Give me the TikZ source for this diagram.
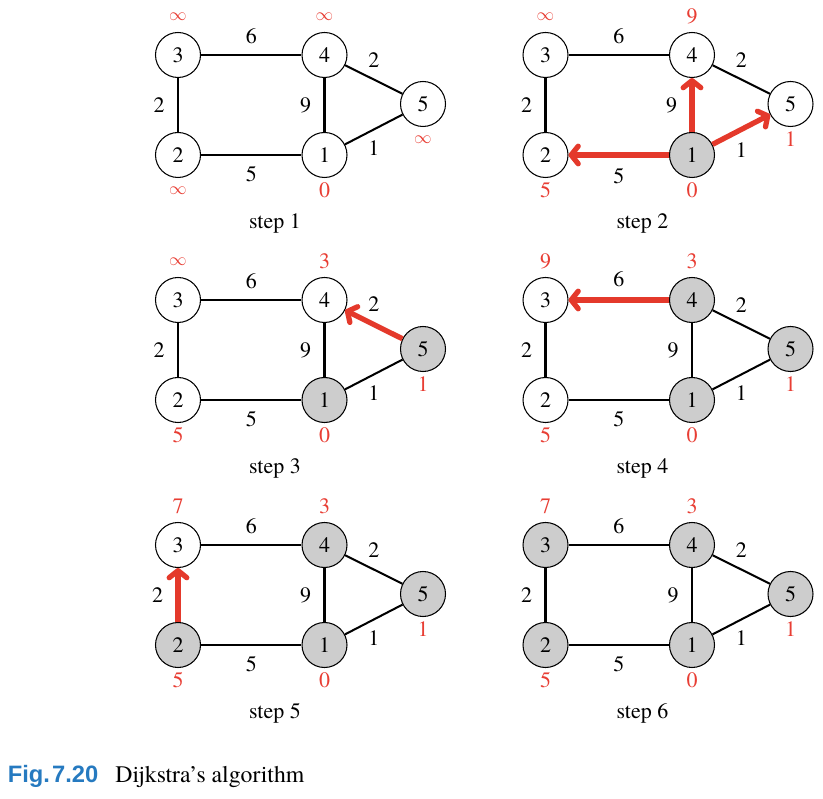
\documentclass[tikz,border=0pt]{standalone}
\usepackage{fontspec}
\setmainfont{texgyretermes}[Extension=.otf, UprightFont=*-regular, BoldFont=*-bold, ItalicFont=*-italic, BoldItalicFont=*-bolditalic]
\newfontfamily\capfont{Liberation Sans}
\usetikzlibrary{arrows.meta}
\definecolor{relaxred}{RGB}{228,57,43}
\definecolor{distred}{RGB}{232,62,52}
\definecolor{visitgray}{RGB}{205,205,205}
\definecolor{capblue}{RGB}{38,122,192}

\tikzset{
  vtx/.style={circle, draw, line width=0.6pt, minimum size=0.9cm, inner sep=0pt},
  seen/.style={vtx, fill=visitgray},
  road/.style={line width=1.15pt},
  relax/.style={draw=relaxred, line width=3pt, -{Straight Barb[round,length=4pt,width=10pt]}},
  wt/.style={inner sep=1pt},
  dist/.style={text=distred, inner sep=1pt, text height=8.4pt, text depth=0pt},
  dtop/.style={label={[dist, label distance=3.5pt]above:#1}},
  dbot/.style={label={[dist, label distance=1.4pt]below:#1}},
}
\newcommand{\infdist}{\raisebox{1.7pt}{\fontsize{10}{12}\selectfont$\infty$}}

\begin{document}
\begin{tikzpicture}[font=\fontsize{12.5}{15}\selectfont]
  \useasboundingbox (0,0) rectangle (16.46,15.96);

  % step 1
  \begin{scope}[shift={(3.56,12.86)}, name prefix=a-]
    \node[vtx, dbot=0] (v1) at (2.93,0) {1};
    \node[vtx, dbot=\infdist] (v2) at (0,0) {2};
    \node[vtx, dtop=\infdist] (v3) at (0,2) {3};
    \node[vtx, dtop=\infdist] (v4) at (2.93,2) {4};
    \node[vtx, dbot=\infdist] (v5) at (4.9,1.02) {5};
    \draw[road] (v3) -- node[wt, above=5pt] {6} (v4);
    \draw[road] (v3) -- node[wt, left=6pt] {2} (v2);
    \draw[road] (v4) -- node[wt, left=6pt] {9} (v1);
    \draw[road] (v4) -- node[wt, above=5pt] {2} (v5);
    \draw[road] (v1) -- node[wt, below=5pt] {1} (v5);
    \draw[road] (v2) -- node[wt, below=5pt] {5} (v1);
    \node (title) at (1.94,-1.36) {step 1};
  \end{scope}

  % step 2
  \begin{scope}[shift={(10.91,12.86)}, name prefix=b-]
    \node[seen, dbot=0] (v1) at (2.93,0) {1};
    \node[vtx, dbot=5] (v2) at (0,0) {2};
    \node[vtx, dtop=\infdist] (v3) at (0,2) {3};
    \node[vtx, dtop=9] (v4) at (2.93,2) {4};
    \node[vtx, dbot=1] (v5) at (4.9,1.02) {5};
    \draw[road] (v3) -- node[wt, above=5pt] {6} (v4);
    \draw[road] (v3) -- node[wt, left=6pt] {2} (v2);
    \draw[road] (v4) -- node[wt, above=5pt] {2} (v5);
    \draw[relax] (v1) -- node[wt, left=6pt] {9} (v4);
    \draw[relax] (v1) -- node[wt, below=5pt] {1} (v5);
    \draw[relax] (v1) -- node[wt, below=5pt] {5} (v2);
    \node (title) at (1.94,-1.36) {step 2};
  \end{scope}

  % step 3
  \begin{scope}[shift={(3.56,7.96)}, name prefix=c-]
    \node[seen, dbot=0] (v1) at (2.93,0) {1};
    \node[vtx, dbot=5] (v2) at (0,0) {2};
    \node[vtx, dtop=\infdist] (v3) at (0,2) {3};
    \node[vtx, dtop=3] (v4) at (2.93,2) {4};
    \node[seen, dbot=1] (v5) at (4.9,1.02) {5};
    \draw[road] (v3) -- node[wt, above=5pt] {6} (v4);
    \draw[road] (v3) -- node[wt, left=6pt] {2} (v2);
    \draw[road] (v4) -- node[wt, left=6pt] {9} (v1);
    \draw[road] (v1) -- node[wt, below=5pt] {1} (v5);
    \draw[road] (v2) -- node[wt, below=5pt] {5} (v1);
    \draw[relax] (v5) -- node[wt, above=5pt] {2} (v4);
    \node (title) at (1.94,-1.36) {step 3};
  \end{scope}

  % step 4
  \begin{scope}[shift={(10.91,7.96)}, name prefix=d-]
    \node[seen, dbot=0] (v1) at (2.93,0) {1};
    \node[vtx, dbot=5] (v2) at (0,0) {2};
    \node[vtx, dtop=9] (v3) at (0,2) {3};
    \node[seen, dtop=3] (v4) at (2.93,2) {4};
    \node[seen, dbot=1] (v5) at (4.9,1.02) {5};
    \draw[road] (v3) -- node[wt, left=6pt] {2} (v2);
    \draw[road] (v4) -- node[wt, left=6pt] {9} (v1);
    \draw[road] (v4) -- node[wt, above=5pt] {2} (v5);
    \draw[road] (v1) -- node[wt, below=5pt] {1} (v5);
    \draw[road] (v2) -- node[wt, below=5pt] {5} (v1);
    \draw[relax] (v4) -- node[wt, above=5pt] {6} (v3);
    \node (title) at (1.94,-1.36) {step 4};
  \end{scope}

  % step 5
  \begin{scope}[shift={(3.56,3.06)}, name prefix=e-]
    \node[seen, dbot=0] (v1) at (2.93,0) {1};
    \node[seen, dbot=5] (v2) at (0,0) {2};
    \node[vtx, dtop=7] (v3) at (0,2) {3};
    \node[seen, dtop=3] (v4) at (2.93,2) {4};
    \node[seen, dbot=1] (v5) at (4.9,1.02) {5};
    \draw[road] (v3) -- node[wt, above=5pt] {6} (v4);
    \draw[road] (v4) -- node[wt, left=6pt] {9} (v1);
    \draw[road] (v4) -- node[wt, above=5pt] {2} (v5);
    \draw[road] (v1) -- node[wt, below=5pt] {1} (v5);
    \draw[road] (v2) -- node[wt, below=5pt] {5} (v1);
    \draw[relax] (v2) -- node[wt, left=6pt] {2} (v3);
    \node (title) at (1.94,-1.36) {step 5};
  \end{scope}

  % step 6
  \begin{scope}[shift={(10.91,3.06)}, name prefix=f-]
    \node[seen, dbot=0] (v1) at (2.93,0) {1};
    \node[seen, dbot=5] (v2) at (0,0) {2};
    \node[seen, dtop=7] (v3) at (0,2) {3};
    \node[seen, dtop=3] (v4) at (2.93,2) {4};
    \node[seen, dbot=1] (v5) at (4.9,1.02) {5};
    \draw[road] (v3) -- node[wt, above=5pt] {6} (v4);
    \draw[road] (v3) -- node[wt, left=6pt] {2} (v2);
    \draw[road] (v4) -- node[wt, left=6pt] {9} (v1);
    \draw[road] (v4) -- node[wt, above=5pt] {2} (v5);
    \draw[road] (v1) -- node[wt, below=5pt] {1} (v5);
    \draw[road] (v2) -- node[wt, below=5pt] {5} (v1);
    \node (title) at (1.94,-1.36) {step 6};
  \end{scope}

  % caption
  \node[anchor=base west, inner sep=0pt, font=\fontsize{13.5}{16}\selectfont] (caption) at (0.15,0.32)
    {{\capfont\bfseries\color{capblue}Fig.\kern1.2pt7.20}\hspace{0.72em}Dijkstra’s algorithm};
\end{tikzpicture}
\end{document}
